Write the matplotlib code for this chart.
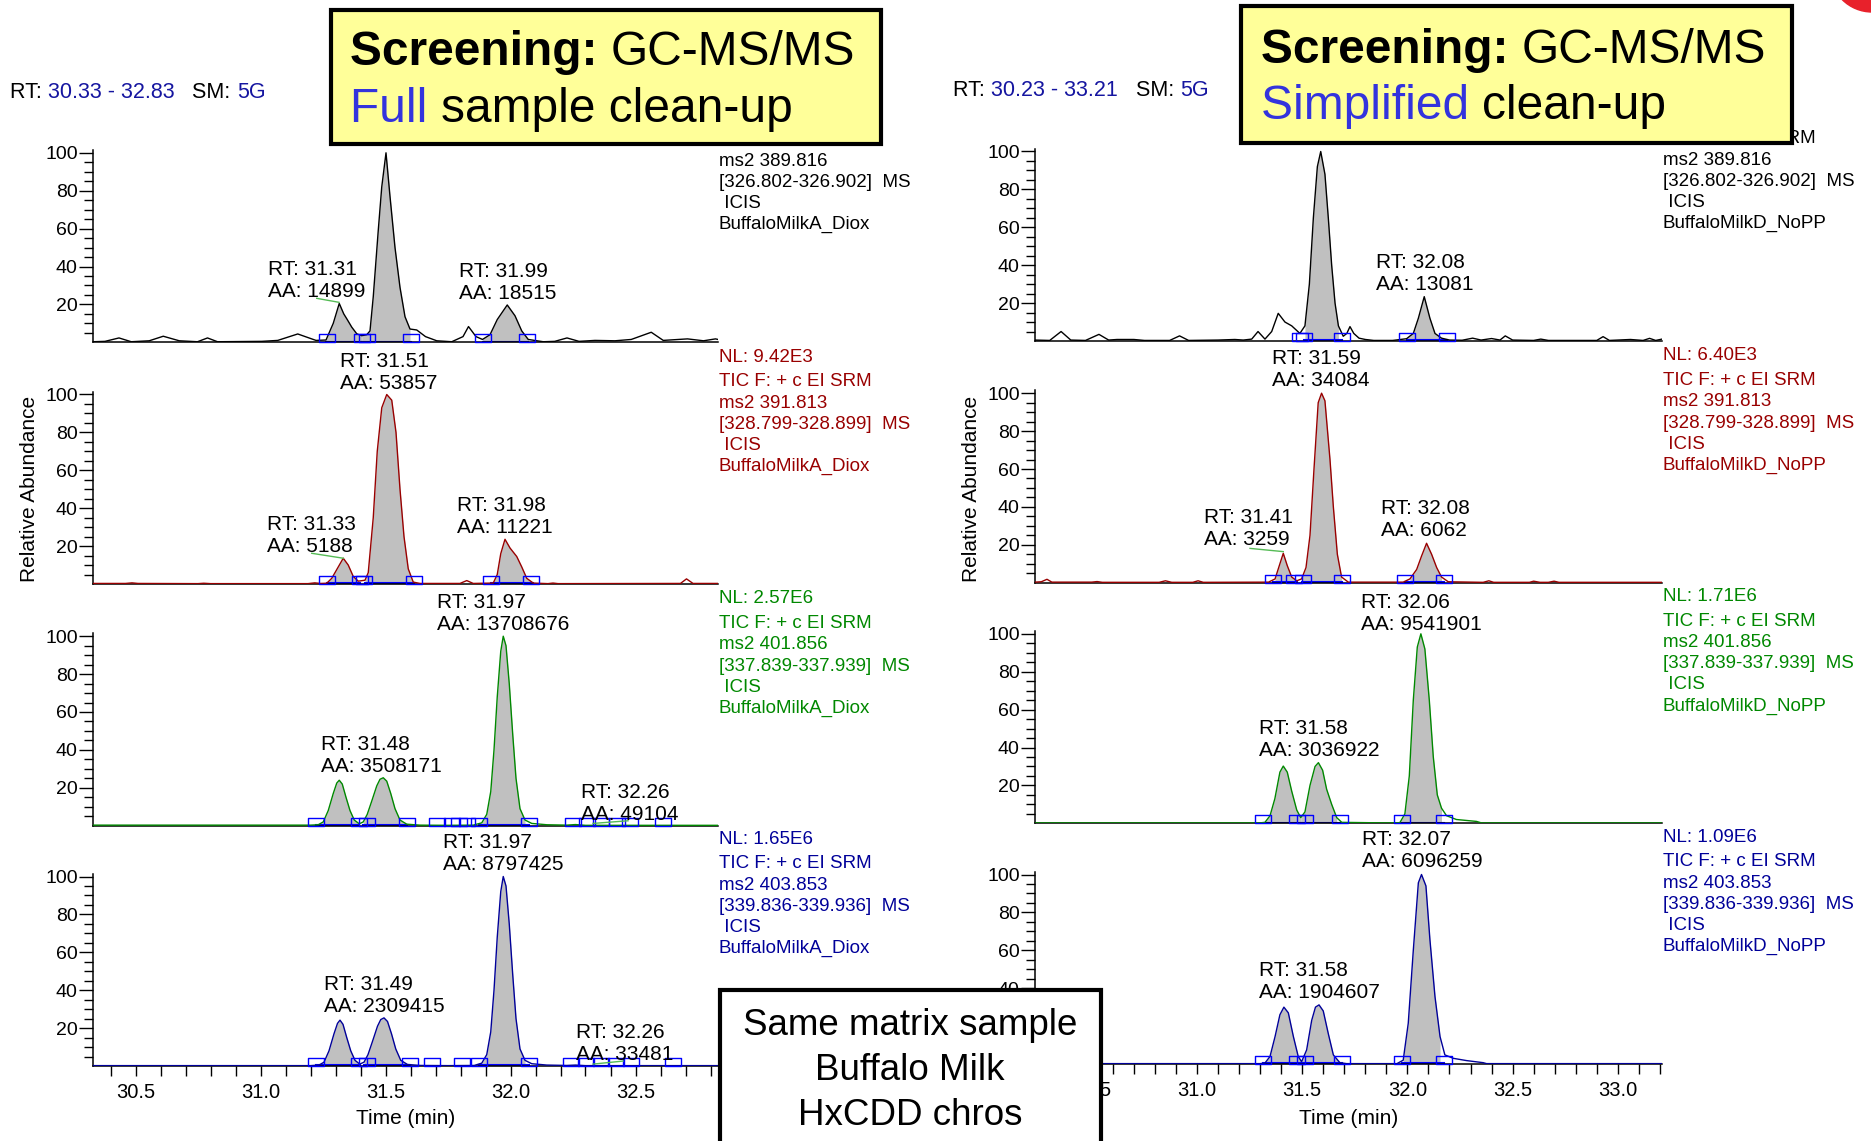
"""
GC-MS/MS screening chromatograms (HxCDD, buffalo milk):
full sample clean-up (left) vs simplified clean-up (right).
Xcalibur-style stacked SRM traces, redrawn with matplotlib.
"""
import matplotlib
matplotlib.use("Agg")
import matplotlib.pyplot as plt
import numpy as np
from matplotlib.path import Path
from matplotlib.patches import Rectangle, Ellipse
from matplotlib.ticker import FixedLocator, MultipleLocator, FormatStrFormatter, FuncFormatter

W, H = 1871, 1141
plt.rcParams["font.family"] = ["Liberation Sans", "DejaVu Sans"]

# ------------------------------------------------------------------
# Data (time in min, relative abundance in %)
# ------------------------------------------------------------------
LEFT_RANGE = (30.33, 32.83)
RIGHT_RANGE = (30.23, 33.21)

# left column - full sample clean-up
L1_time = [30.33, 30.378, 30.434, 30.483, 30.555, 30.611, 30.675, 30.748, 30.788, 30.828,
           31.005, 31.069, 31.149, 31.222, 31.262, 31.291, 31.315, 31.333, 31.347, 31.365,
           31.385, 31.405, 31.425, 31.438, 31.451, 31.471, 31.485, 31.502, 31.518, 31.538,
           31.558, 31.578, 31.598, 31.625, 31.66, 31.705, 31.765, 31.81, 31.832, 31.862,
           31.888, 31.918, 31.947, 31.987, 32.018, 32.045, 32.071, 32.131, 32.177, 32.226,
           32.274, 32.338, 32.418, 32.483, 32.563, 32.611, 32.708, 32.772, 32.82, 32.83]
L1_abund = [0.3, 0.5, 2.3, 0.3, 0.8, 3.2, 0.8, 0.3, 2.3, 0.3,
            0.5, 1.0, 4.4, 1.0, 1.2, 10, 20.5, 15, 12, 8,
            4.5, 3.5, 4, 6, 24, 59, 82, 100, 77, 50,
            29, 13.5, 7, 6.5, 3, 0.8, 0.3, 3, 8.3, 3,
            1.5, 4, 12, 19.7, 14, 6, 1.5, 0.3, 0.5, 2.3,
            0.5, 1.0, 0.8, 1.5, 5.3, 1.0, 1.8, 0.8, 1.8, 1.5]

L2_time = [30.33, 30.46, 30.486, 30.51, 30.75, 30.773, 30.80, 31.19, 31.217, 31.24,
           31.265, 31.285, 31.311, 31.331, 31.351, 31.371, 31.391, 31.418, 31.431, 31.451,
           31.467, 31.485, 31.505, 31.525, 31.542, 31.558, 31.574, 31.591, 31.611, 31.638,
           31.798, 31.825, 31.851, 31.931, 31.947, 31.961, 31.978, 31.998, 32.025, 32.045,
           32.065, 32.091, 32.15, 32.17, 32.19, 32.68, 32.704, 32.73, 32.83]
L2_abund = [0.3, 0.3, 0.6, 0.3, 0.2, 0.4, 0.2, 0.2, 0.6, 0.3,
            0.4, 3, 9, 13.6, 10, 4, 1.5, 2, 6, 35,
            70, 93, 100, 97, 80, 50, 25, 8, 1, 0.3,
            0.3, 1.8, 0.3, 0.5, 5, 16, 23.6, 19, 14.5, 9,
            3, 0.5, 0.2, 0.5, 0.2, 0.3, 2.7, 0.3, 0.3]

L3_time = [30.33, 31.20, 31.231, 31.251, 31.271, 31.291, 31.305, 31.315, 31.327, 31.342,
           31.358, 31.375, 31.395, 31.411, 31.427, 31.445, 31.465, 31.478, 31.491, 31.505,
           31.521, 31.538, 31.558, 31.585, 31.638, 31.745, 31.851, 31.885, 31.905, 31.921,
           31.934, 31.947, 31.961, 31.971, 31.982, 31.995, 32.009, 32.022, 32.038, 32.058,
           32.085, 32.145, 32.225, 32.26, 32.30, 32.83]
L3_abund = [0.3, 0.3, 0.5, 2, 8, 17, 22.5, 24, 22, 15,
            8, 3, 1, 2, 6, 13, 21, 24.5, 25.3, 23.5,
            17, 9, 3, 0.8, 0.3, 0.2, 0.3, 1.5, 6, 18,
            40, 68, 92, 100, 95, 75, 48, 25, 9, 3,
            1.2, 0.5, 0.3, 0.6, 0.2, 0.2]

L4_time = [30.33, 31.20, 31.234, 31.254, 31.274, 31.294, 31.308, 31.318, 31.33, 31.345,
           31.361, 31.378, 31.397, 31.414, 31.43, 31.448, 31.468, 31.481, 31.494, 31.508,
           31.524, 31.541, 31.561, 31.588, 31.64, 31.75, 31.855, 31.885, 31.905, 31.921,
           31.934, 31.947, 31.961, 31.971, 31.982, 31.995, 32.009, 32.022, 32.038, 32.058,
           32.085, 32.145, 32.225, 32.26, 32.30, 32.83]
L4_abund = [0.2, 0.2, 0.5, 2, 8, 17, 22.5, 24.2, 22, 15,
            8, 3, 1, 2, 6, 13, 21, 24.5, 25.4, 23.5,
            17, 9, 3, 0.8, 0.3, 0.2, 0.3, 1.5, 6, 18,
            40, 68, 92, 100, 95, 75, 48, 25, 9, 3,
            1.2, 0.5, 0.3, 0.5, 0.2, 0.2]

# right column - simplified clean-up
R1_time = [30.23, 30.30, 30.354, 30.40, 30.47, 30.534, 30.58, 30.62, 30.70, 30.75,
           30.87, 30.917, 30.96, 31.10, 31.18, 31.22, 31.26, 31.29, 31.323, 31.355,
           31.386, 31.418, 31.45, 31.489, 31.513, 31.534, 31.553, 31.572, 31.588, 31.608,
           31.624, 31.64, 31.656, 31.672, 31.695, 31.712, 31.727, 31.745, 31.77, 31.80,
           31.84, 31.93, 31.996, 32.028, 32.052, 32.08, 32.107, 32.131, 32.162, 32.20,
           32.26, 32.31, 32.35, 32.40, 32.44, 32.465, 32.50, 32.60, 32.634, 32.67,
           32.90, 32.93, 32.96, 33.06, 33.12, 33.151, 33.18, 33.21]
R1_abund = [0.5, 0.3, 5, 0.5, 0.3, 3.5, 0.5, 0.8, 0.8, 0.3,
            0.3, 2.7, 0.3, 0.5, 0.8, 0.5, 1, 5, 1, 5,
            14.6, 10, 8, 4, 8, 30, 65, 92, 100, 88,
            65, 40, 20, 8, 2.5, 4, 7.6, 4, 1.5, 0.8,
            0.3, 0.3, 1.2, 4, 12, 23.4, 12, 4, 1.5, 0.5,
            0.4, 1.5, 0.5, 1.3, 0.5, 2.7, 0.5, 0.3, 1, 0.3,
            0.3, 2.3, 0.3, 0.8, 0.3, 1.4, 0.3, 1]

R2_time = [30.23, 30.26, 30.287, 30.31, 30.50, 30.525, 30.55, 30.82, 30.85, 30.88,
           30.98, 31.005, 31.03, 31.34, 31.371, 31.394, 31.41, 31.429, 31.45, 31.474,
           31.497, 31.518, 31.537, 31.556, 31.576, 31.592, 31.608, 31.632, 31.648, 31.667,
           31.687, 31.719, 31.98, 32.012, 32.044, 32.067, 32.091, 32.115, 32.139, 32.162,
           32.194, 32.36, 32.387, 32.41, 32.58, 32.60, 32.63, 32.67, 32.697, 32.72,
           33.21]
R2_abund = [0.3, 0.5, 1.8, 0.3, 0.3, 0.6, 0.2, 0.2, 1, 0.2,
            0.2, 1, 0.2, 0.3, 2, 10, 15.5, 9, 3, 1,
            2, 8, 25, 60, 95, 100, 96, 65, 40, 15,
            3, 0.3, 0.3, 2, 7, 14, 20.8, 15, 8, 3,
            0.5, 0.2, 1, 0.2, 0.2, 0.8, 0.2, 0.2, 0.8, 0.2,
            0.2]

R3_time = [30.23, 31.30, 31.323, 31.347, 31.37, 31.394, 31.41, 31.429, 31.45, 31.474,
           31.493, 31.513, 31.537, 31.561, 31.577, 31.597, 31.616, 31.64, 31.664, 31.688,
           31.90, 31.964, 31.988, 32.009, 32.028, 32.047, 32.064, 32.083, 32.104, 32.123,
           32.142, 32.162, 32.186, 32.233, 32.328, 32.352, 33.21]
R3_abund = [0.2, 0.2, 0.5, 4, 13, 27, 30.2, 27, 17, 7,
            3, 6, 20, 30, 32, 28, 18, 10, 3, 0.5,
            0.2, 0.3, 5, 25, 65, 93, 100, 92, 65, 35,
            15, 8, 4, 2, 1, 0.2, 0.2]

R4_time = [30.23, 31.30, 31.323, 31.347, 31.371, 31.394, 31.413, 31.434, 31.458, 31.481,
           31.497, 31.521, 31.545, 31.563, 31.58, 31.60, 31.624, 31.648, 31.679, 31.711,
           31.95, 31.98, 32.004, 32.028, 32.052, 32.067, 32.088, 32.107, 32.131, 32.155,
           32.178, 32.218, 32.281, 32.36, 32.376, 33.21]
R4_abund = [0.2, 0.2, 0.5, 4, 14.5, 26, 30, 27, 14.5, 4,
            1.2, 7.4, 23, 30, 31.2, 28, 16, 4.8, 0.7, 0.2,
            0.2, 2, 21.5, 60, 95.6, 100, 94, 65.6, 35.6, 14.5,
            4.8, 3, 1.8, 0.7, 0.2, 0.2]

# integration windows (gray area) and peak start/end markers
L1_fill = [(31.262, 31.405), (31.405, 31.601), (31.888, 32.071)]
L2_fill = [(31.265, 31.398), (31.418, 31.614), (31.921, 32.091)]
L3_fill = [(31.221, 31.395), (31.411, 31.586), (31.874, 32.073)]
L4_fill = [(31.221, 31.397), (31.414, 31.598), (31.874, 32.074)]
R1_fill = [(31.507, 31.689), (31.996, 32.186)]
R2_fill = [(31.36, 31.474), (31.497, 31.689), (31.988, 32.172)]
R3_fill = [(31.312, 31.493), (31.493, 31.679), (31.964, 32.173)]
R4_fill = [(31.312, 31.497), (31.497, 31.687), (31.972, 32.173)]

L1_marks = [31.265, 31.405, 31.425, 31.601, 31.888, 32.068]
L2_marks = [31.265, 31.398, 31.414, 31.614, 31.921, 32.081]
L3_marks = [31.221, 31.395, 31.425, 31.586, 31.706, 31.765, 31.795, 31.825, 31.874,
            32.073, 32.251, 32.306, 32.361, 32.425, 32.479, 32.609]
L4_marks = [31.221, 31.395, 31.426, 31.598, 31.687, 31.805, 31.874, 32.074, 32.242,
            32.301, 32.361, 32.421, 32.481, 32.650]
R1_marks = [31.489, 31.507, 31.689, 31.996, 32.186]
R2_marks = [31.36, 31.462, 31.502, 31.689, 31.988, 32.172]
R3_marks = [31.312, 31.477, 31.512, 31.679, 31.972, 32.173]
R4_marks = [31.312, 31.477, 31.513, 31.687, 31.972, 32.173]

# peak labels
L1_rt, L1_aa = ["31.31", "31.99"], ["14899", "18515"]
L2_rt, L2_aa = ["31.51", "31.33", "31.98"], ["53857", "5188", "11221"]
L3_rt, L3_aa = ["31.97", "31.48", "32.26"], ["13708676", "3508171", "49104"]
L4_rt, L4_aa = ["31.97", "31.49", "32.26"], ["8797425", "2309415", "33481"]
R1_rt, R1_aa = ["32.08"], ["13081"]
R2_rt, R2_aa = ["31.59", "31.41", "32.08"], ["34084", "3259", "6062"]
R3_rt, R3_aa = ["32.06", "31.58"], ["9541901", "3036922"]
R4_rt, R4_aa = ["32.07", "31.58"], ["6096259", "1904607"]

# scan header lines shown at the right of each trace
L_nl = [None, "NL: 9.42E3", "NL: 2.57E6", "NL: 1.65E6"]
R_nl = [None, "NL: 6.40E3", "NL: 1.71E6", "NL: 1.09E6"]
ms2 = ["ms2 389.816", "ms2 391.813", "ms2 401.856", "ms2 403.853"]
windows = ["[326.802-326.902]  MS", "[328.799-328.899]  MS",
           "[337.839-337.939]  MS", "[339.836-339.936]  MS"]
L_sample = "BuffaloMilkA_Diox"
R_sample = "BuffaloMilkD_NoPP"

# ------------------------------------------------------------------
# layout (pixels of the 1871x1141 canvas) and styles
# ------------------------------------------------------------------
TRACE_COLORS = ["#000000", "#990000", "#008800", "#000099"]
FILL = "#c0c0c0"
MARK = "#0000ff"
LEADER = "#55bb55"
BLUE_TXT = "#1515a0"
YMAX = 101.5
UNIT100 = 189.5                      # px between 0 and 100 %
L_BASES = [342.3, 584.0, 825.7, 1066.0]
R_BASES = [341.0, 582.7, 823.3, 1064.0]
L_X = (93, 718)
R_X = (1035, 1662)

# label anchors (time, % baseline) and leader lines, per panel
L1_pos = [(31.226, 24.1), (31.99, 23.0)]
L2_pos = [(31.513, 102.7), (31.205, 17.1), (31.978, 26.7)]
L3_pos = [(31.971, 103.3), (31.485, 28.5), (32.478, 3.0)]
L4_pos = [(31.972, 103.4), (31.495, 28.7), (32.458, 3.2)]
R1_pos = [(32.082, 27.0)]
R2_pos = [(31.59, 103.6), (31.244, 19.9), (32.085, 24.7)]
R3_pos = [(32.067, 102.0), (31.583, 35.6)]
R4_pos = [(32.069, 103.8), (31.583, 34.7)]
L1_lead = [((31.225, 23.2), (31.314, 21.1))]
L2_lead = [((31.205, 16.2), (31.331, 13.6))]
L3_lead = [((32.33, 1.2), (32.47, 2.6))]
L4_lead = [((32.33, 1.0), (32.45, 2.6))]
R2_lead = [((31.252, 18.1), (31.41, 16.4))]

# hollow 2:1 box sitting on the baseline (peak start / end flags)
BOX = Path([(-1, 0), (1, 0), (1, 1), (-1, 1), (-1, 0)],
           [Path.MOVETO, Path.LINETO, Path.LINETO, Path.LINETO, Path.CLOSEPOLY])

fig = plt.figure(figsize=(W / 100, H / 100), dpi=100)
fig.patch.set_facecolor("white")
renderer = fig.canvas.get_renderer()


def px(x, y):
    return x / W, 1 - y / H


def text_width(s, size, weight="normal"):
    # advance width of s (trailing spaces included) in pixels
    t1 = fig.text(0, 0, s + "|", fontsize=size, fontweight=weight)
    t2 = fig.text(0, 0, "|", fontsize=size, fontweight=weight)
    w = t1.get_window_extent(renderer).width - t2.get_window_extent(renderer).width
    t1.remove()
    t2.remove()
    return w


def rich_text(x, y, parts, size, z=11, va="baseline"):
    for s, color, weight in parts:
        fig.text(*px(x, y), s, fontsize=size, color=color, fontweight=weight,
                 ha="left", va=va, zorder=z)
        x += text_width(s, size, weight)


def make_axes(x_span, base, xlim, bottom):
    h = UNIT100 * YMAX / 100
    ax = fig.add_axes([x_span[0] / W, 1 - base / H, (x_span[1] - x_span[0]) / W, h / H])
    ax.set_xlim(*xlim)
    ax.set_ylim(0, YMAX)
    ax.patch.set_alpha(0)
    for s in ("top", "right"):
        ax.spines[s].set_visible(False)
    for s in ("left", "bottom"):
        ax.spines[s].set_linewidth(1.1)
    ax.yaxis.set_major_locator(FixedLocator([20, 40, 60, 80, 100]))
    ax.yaxis.set_minor_locator(FixedLocator([v for v in range(5, 100, 5) if v % 20]))
    ax.tick_params(axis="y", which="major", length=10, width=1, pad=1, labelsize=14)
    ax.tick_params(axis="y", which="minor", length=6.5, width=1)
    if bottom:
        ax.xaxis.set_major_locator(MultipleLocator(0.5))
        ax.xaxis.set_minor_locator(MultipleLocator(0.1))
        ax.xaxis.set_major_formatter(FormatStrFormatter("%.1f"))
        ax.tick_params(axis="x", which="both", length=7.5, width=1, pad=5, labelsize=14.5)
    else:
        ax.tick_params(axis="x", which="both", bottom=False, labelbottom=False)
    return ax


def draw_trace(ax, time, abund, color, fills, marks, rts, aas, pos, leads):
    t = np.asarray(time)
    a = np.asarray(abund)
    for s, e in fills:
        m = (t >= s) & (t <= e)
        ax.fill_between(t[m], a[m], 0, color=FILL, lw=0, zorder=1)
        ax.plot([s, e], [0.3, 0.3], color=MARK, lw=1.5, zorder=2)
    ax.plot(t, a, color=color, lw=1.0, zorder=3)
    ax.plot(marks, np.zeros(len(marks)), ls="none", marker=BOX, ms=11,
            mfc="none", mec=MARK, mew=1, zorder=4, clip_on=False)
    for (x0, y0), (x1, y1) in leads:
        ax.plot([x0, x1], [y0, y1], color=LEADER, lw=1, zorder=4, clip_on=False)
    for rt, aa, (x, y) in zip(rts, aas, pos):
        ax.text(x, y, f"RT: {rt}\nAA: {aa}", ha="center", va="baseline",
                multialignment="left", fontsize=15, linespacing=1.2,
                clip_on=False, zorder=5)


left = [
    (L1_time, L1_abund, L1_fill, L1_marks, L1_rt, L1_aa, L1_pos, L1_lead),
    (L2_time, L2_abund, L2_fill, L2_marks, L2_rt, L2_aa, L2_pos, L2_lead),
    (L3_time, L3_abund, L3_fill, L3_marks, L3_rt, L3_aa, L3_pos, L3_lead),
    (L4_time, L4_abund, L4_fill, L4_marks, L4_rt, L4_aa, L4_pos, L4_lead),
]
right = [
    (R1_time, R1_abund, R1_fill, R1_marks, R1_rt, R1_aa, R1_pos, []),
    (R2_time, R2_abund, R2_fill, R2_marks, R2_rt, R2_aa, R2_pos, R2_lead),
    (R3_time, R3_abund, R3_fill, R3_marks, R3_rt, R3_aa, R3_pos, []),
    (R4_time, R4_abund, R4_fill, R4_marks, R4_rt, R4_aa, R4_pos, []),
]

for panels, bases, xs, xlim, nls, sample in [
        (left, L_BASES, L_X, LEFT_RANGE, L_nl, L_sample),
        (right, R_BASES, R_X, RIGHT_RANGE, R_nl, R_sample)]:
    for i, (p, base) in enumerate(zip(panels, bases)):
        ax = make_axes(xs, base, xlim, bottom=(i == 3))
        if i == 3 and panels is right:
            # the "20" label sits completely under the sample note box
            ax.yaxis.set_major_formatter(
                FuncFormatter(lambda v, pos: "" if v == 20 else f"{v:.0f}"))
        draw_trace(ax, p[0], p[1], TRACE_COLORS[i], *p[2:])
        y100 = base - UNIT100
        lines = ["TIC F: + c EI SRM", ms2[i], windows[i], " ICIS", sample]
        if i == 0 and panels is left:
            lines = lines[1:]       # TIC line fully hidden under the title box
            y_top = y100 + 10
        else:
            y_top = y100 - 11
        # scan filter block as one multi-line text
        fig.text(*px(xs[1] + 1, y_top - 10), "\n".join(lines), color=TRACE_COLORS[i],
                 fontsize=13.5, ha="left", va="top", linespacing=1.32, zorder=3)
        if nls[i]:
            fig.text(*px(xs[1] + 1, y100 - 37.5), nls[i], color=TRACE_COLORS[i],
                     fontsize=13.5, ha="left", va="center", zorder=3)
    fig.text(*px(xs[0] - 63, 489), "Relative Abundance", rotation=90,
             fontsize=15, ha="center", va="center")
    fig.text(*px((xs[0] + xs[1]) / 2, 1119), "Time (min)", fontsize=15,
             ha="center", va="center")

# scan range headers
rich_text(10, 98, [("RT: ", "black", "normal"), ("30.33 - 32.83", BLUE_TXT, "normal"),
                   ("   SM: ", "black", "normal"), ("5G", BLUE_TXT, "normal")], 15.5, z=3)
rich_text(953, 96, [("RT: ", "black", "normal"), ("30.23 - 33.21", BLUE_TXT, "normal"),
                    ("   SM: ", "black", "normal"), ("5G", BLUE_TXT, "normal")], 15.5, z=3)

# yellow title boxes
for (x0, y0, x1, y1), tx, b1, b2, word in [
        ((330.5, 9.5, 880.6, 144), 350, 65, 121.7, "Full"),
        ((1241, 6, 1792, 143), 1261, 62.7, 119.3, "Simplified")]:
    fig.add_artist(Rectangle(px(x0, y1), (x1 - x0) / W, (y1 - y0) / H,
                             transform=fig.transFigure, fc="#ffff99", ec="black",
                             lw=3, zorder=10))
    rich_text(tx, b1, [("Screening: ", "black", "bold"), ("GC-MS/MS", "black", "normal")], 34.5)
    tail = "sample clean-up" if word == "Full" else "clean-up"
    rich_text(tx, b2, [(word + " ", "#3333dd", "normal"), (tail, "black", "normal")], 34.5)

# sample note box
fig.add_artist(Rectangle(px(719.5, 1150), (1101 - 719.5) / W, (1150 - 990) / H,
                         transform=fig.transFigure, fc="white", ec="black",
                         lw=3, zorder=10))
for text, yb in [("Same matrix sample", 1035), ("Buffalo Milk", 1080), ("HxCDD chros", 1125)]:
    fig.text(*px(910, yb), text, fontsize=26.5, ha="center", va="baseline", zorder=11)

# red slide marker peeking in at the top-right corner
fig.add_artist(Ellipse(px(1872, -30), 84 / W, 84 / H, transform=fig.transFigure,
                       color="#e8212b", zorder=10))

fig.savefig("out.png", dpi=100)
